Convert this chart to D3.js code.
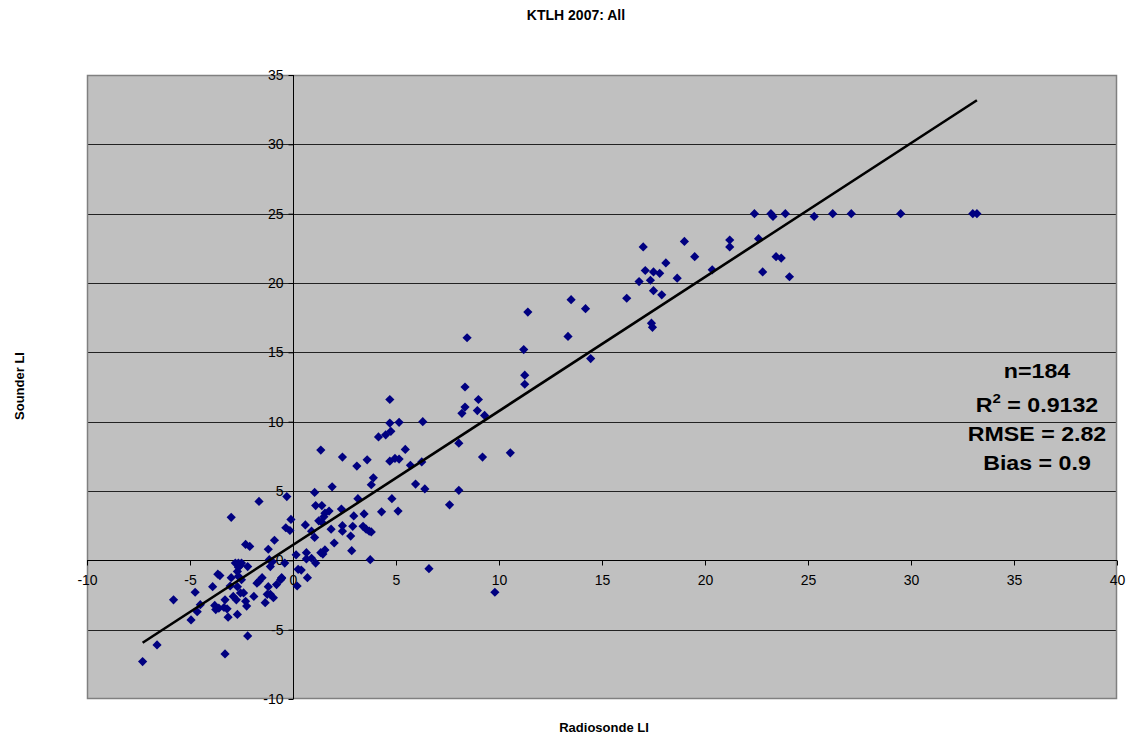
<!DOCTYPE html>
<html>
<head>
<meta charset="utf-8">
<script src="https://cdn.jsdelivr.net/npm/d3@7"></script>
<style>
  html, body { margin: 0; padding: 0; background: #fff; }
  svg { display: block; font-family: "Liberation Sans", Arial, sans-serif; }
</style>
</head>
<body>
<svg id="chart" width="1133" height="742"></svg>
<script>
// Radiosonde LI (x) vs Sounder LI (y), KTLH 2007
const radiosondeLI = [
  22.4, 23.2, 23.9, 25.3, 26.2, 27.1, 29.5, 33.0, 33.2, 22.6,
  23.45, 23.7, 22.8, 24.1, 13.5, 14.2, 13.35, 14.45, 17.0, 19.0,
  21.2, 21.2, 18.1, 19.5, 17.1, 17.5, 17.8, 18.65, 16.8, 17.35,
  17.5, 17.9, 16.2, 17.4, 17.45, 20.35, 11.4, 8.45, 11.2, 11.25,
  11.25, 8.35, 9.0, 8.35, 8.2, 8.95, 9.3, 4.7, 4.7, 5.15,
  6.3, 4.75, 4.5, 4.15, 5.45, 4.7, 4.95, 5.15, 5.7, 6.25,
  5.95, 6.4, 4.8, 4.3, 5.1, 7.6, 8.05, 8.05, 9.2, 10.55,
  6.6, 9.8, 1.35, 2.4, 3.1, 3.6, 3.9, 3.8, 1.9, -0.3,
  1.05, 3.15, 1.1, 1.4, 2.35, -0.1, 1.75, 1.55, 1.5, 2.95,
  3.45, 1.25, 1.4, 0.6, -0.35, -0.15, 0.9, 1.05, 1.85, 2.4,
  2.4, 2.9, 2.8, 3.4, 3.55, 3.7, 3.8, 2.0, 2.85, 3.75,
  0.15, 0.65, 0.65, 0.9, 1.1, 1.35, 1.45, 1.55, -0.4, 0.4,
  0.7, -0.55, 0.2, -3.0, -1.65, -0.9, -1.2, -2.3, -2.1, -1.1,
  -2.65, -2.55, -2.2, -7.3, -6.6, -5.8, -4.95, -4.75, -4.5, -4.65,
  -3.3, -2.2, -3.9, -3.55, -3.65, -3.0, -3.8, -3.75, -3.6, -3.3,
  -3.35, -3.2, -3.15, -2.7, -2.7, -2.55, -2.4, -2.3, -2.25, -2.75,
  -2.9, -3.05, -2.65, -2.5, -2.7, -2.65, -2.5, -2.8, -1.9, -1.65,
  -1.5, -1.75, -1.35, -1.25, -1.1, -0.95, -1.2, -0.8, -0.6, -0.55,
  -1.0, -1.15, 0.25, 23.3
];
const sounderLI = [
  25.0, 25.0, 25.0, 24.8, 25.0, 25.0, 25.0, 25.0, 25.0, 23.2,
  21.9, 21.8, 20.8, 20.45, 18.8, 18.15, 16.15, 14.55, 22.6, 23.0,
  23.1, 22.6, 21.45, 21.9, 20.9, 20.8, 20.7, 20.35, 20.1, 20.2,
  19.45, 19.15, 18.9, 17.1, 16.8, 20.95, 17.9, 16.05, 15.2, 13.35,
  12.7, 12.5, 11.6, 11.05, 10.6, 10.8, 10.45, 11.6, 9.9, 9.95,
  10.0, 9.3, 9.05, 8.9, 8.0, 7.15, 7.35, 7.3, 6.85, 7.1,
  5.5, 5.15, 4.45, 3.5, 3.55, 4.0, 5.05, 8.45, 7.45, 7.75,
  -0.6, -2.3, 7.95, 7.45, 6.8, 7.25, 5.95, 5.45, 5.3, 4.6,
  4.9, 4.45, 3.95, 3.95, 3.7, 2.95, 3.55, 3.4, 3.15, 3.2,
  3.35, 2.85, 2.75, 2.55, 2.35, 2.15, 2.1, 1.65, 2.25, 2.5,
  2.1, 2.45, 1.75, 2.45, 2.25, 2.1, 2.05, 1.25, 0.7, 0.05,
  0.4, 0.55, 0.1, 0.15, -0.2, 0.55, 0.45, 0.75, -0.2, -0.7,
  -1.25, -1.3, -1.85, 3.1, 4.25, 1.45, 0.8, 1.15, 1.0, -0.45,
  -0.2, -0.35, -0.45, -7.3, -6.1, -2.85, -4.3, -2.3, -3.2, -3.7,
  -6.75, -5.45, -1.9, -1.1, -1.0, -1.25, -3.25, -3.55, -3.45, -2.85,
  -3.4, -3.5, -4.1, -3.9, -1.9, -2.35, -2.35, -2.95, -3.3, -2.85,
  -2.6, -1.85, -1.15, -1.4, -0.8, -0.5, -0.2, -0.2, -2.6, -1.5,
  -1.25, -1.65, -3.05, -2.45, -2.45, -2.7, -1.9, -1.75, -1.4, -1.25,
  -0.1, 0.05, -0.65, 24.8
];

// Linear fit coefficients and summary statistics
const fitSlope = 0.966;
const fitIntercept = 1.11;
const statLines = ["n=184", "R2 = 0.9132", "RMSE = 2.82", "Bias = 0.9"];

const xTicks = [-10, -5, 0, 5, 10, 15, 20, 25, 30, 35, 40];
const yTicks = [-10, -5, 0, 5, 10, 15, 20, 25, 30, 35];

const svg = d3.select("#chart");
const plot = { left: 87, right: 1117, top: 75, bottom: 699 };

const x = d3.scaleLinear().domain([-10, 40]).range([plot.left, plot.right]);
const y = d3.scaleLinear().domain([-10, 35]).range([plot.bottom, plot.top]);

// Plain hyphen-minus for negative tick labels
const tickFmt = d => String(d);

// Plot background
svg.append("rect")
  .attr("x", plot.left).attr("y", plot.top)
  .attr("width", plot.right - plot.left).attr("height", plot.bottom - plot.top)
  .attr("fill", "#c0c0c0");

// Horizontal gridlines
svg.append("g")
  .selectAll("line")
  .data(yTicks.filter(t => t !== 0 && t !== -10))
  .join("line")
  .attr("x1", plot.left).attr("x2", plot.right)
  .attr("y1", d => Math.round(y(d)) + 0.5).attr("y2", d => Math.round(y(d)) + 0.5)
  .attr("stroke", "#222").attr("stroke-width", 1);

// Plot border
svg.append("rect")
  .attr("x", plot.left + 0.5).attr("y", plot.top + 0.5)
  .attr("width", plot.right - plot.left - 1).attr("height", plot.bottom - plot.top - 1)
  .attr("fill", "none").attr("stroke", "#808080").attr("stroke-width", 1.5);

// X axis through y = 0
const xAxis = d3.axisBottom(x).tickValues(xTicks).tickSize(5).tickPadding(10)
  .tickFormat(tickFmt);
const gx = svg.append("g")
  .attr("transform", `translate(0,${Math.round(y(0)) + 0.5})`)
  .call(xAxis);
gx.select(".domain").attr("stroke", "#000").attr("d", `M${plot.left},0H${plot.right}`);
gx.selectAll(".tick line").attr("stroke", "#000");
gx.selectAll(".tick text")
  .attr("font-size", 14).attr("fill", "#000")
  .attr("font-family", "Liberation Sans, Arial, sans-serif");

// Y axis through x = 0
const yAxis = d3.axisLeft(y).tickValues(yTicks).tickSize(5).tickPadding(5)
  .tickFormat(tickFmt);
const gy = svg.append("g")
  .attr("transform", `translate(${Math.round(x(0)) + 0.5},0)`)
  .call(yAxis);
gy.select(".domain").attr("stroke", "#000").attr("d", `M0,${plot.top}V${plot.bottom}`);
gy.selectAll(".tick line").attr("stroke", "#000");
gy.selectAll(".tick text")
  .attr("font-size", 14).attr("fill", "#000")
  .attr("font-family", "Liberation Sans, Arial, sans-serif");

// Scatter points as diamonds
const points = radiosondeLI.map((v, i) => ({ rx: v, sy: sounderLI[i] }));
const r = 4.6;
const diamond = `M0,${-r}L${r},0L0,${r}L${-r},0Z`;
svg.append("g")
  .selectAll("path")
  .data(points)
  .join("path")
  .attr("d", diamond)
  .attr("transform", d => `translate(${x(d.rx)},${y(d.sy)})`)
  .attr("fill", "#000080");

// Linear trendline across the data range
const xExt = d3.extent(radiosondeLI);
const trend = xExt.map(v => ({ rx: v, sy: fitSlope * v + fitIntercept }));
svg.append("path")
  .datum(trend)
  .attr("d", d3.line().x(d => x(d.rx)).y(d => y(d.sy)))
  .attr("fill", "none").attr("stroke", "#000").attr("stroke-width", 2.6);

// Statistics block (slightly wide lettering)
const stats = svg.append("g")
  .attr("transform", "translate(1037,0) scale(1.16,1)")
  .attr("font-weight", "bold").attr("font-size", 20)
  .attr("text-anchor", "middle").attr("fill", "#000");
const statY = [378, 412, 441, 470];
statLines.forEach((s, i) => {
  const t = stats.append("text").attr("x", 0).attr("y", statY[i]);
  if (s.startsWith("R2")) {
    t.append("tspan").text("R");
    t.append("tspan").attr("font-size", 13).attr("dy", -9).text("2");
    t.append("tspan").attr("dy", 9).text(s.slice(2));
  } else {
    t.text(s);
  }
});

// Titles
svg.append("text")
  .attr("x", 576).attr("y", 20)
  .attr("text-anchor", "middle").attr("font-weight", "bold").attr("font-size", 14)
  .text("KTLH 2007: All");

svg.append("text")
  .attr("x", 604).attr("y", 732)
  .attr("text-anchor", "middle").attr("font-weight", "bold").attr("font-size", 13)
  .text("Radiosonde LI");

svg.append("text")
  .attr("transform", "translate(24,386) rotate(-90)")
  .attr("text-anchor", "middle").attr("font-weight", "bold").attr("font-size", 13)
  .text("Sounder LI");
</script>
</body>
</html>
